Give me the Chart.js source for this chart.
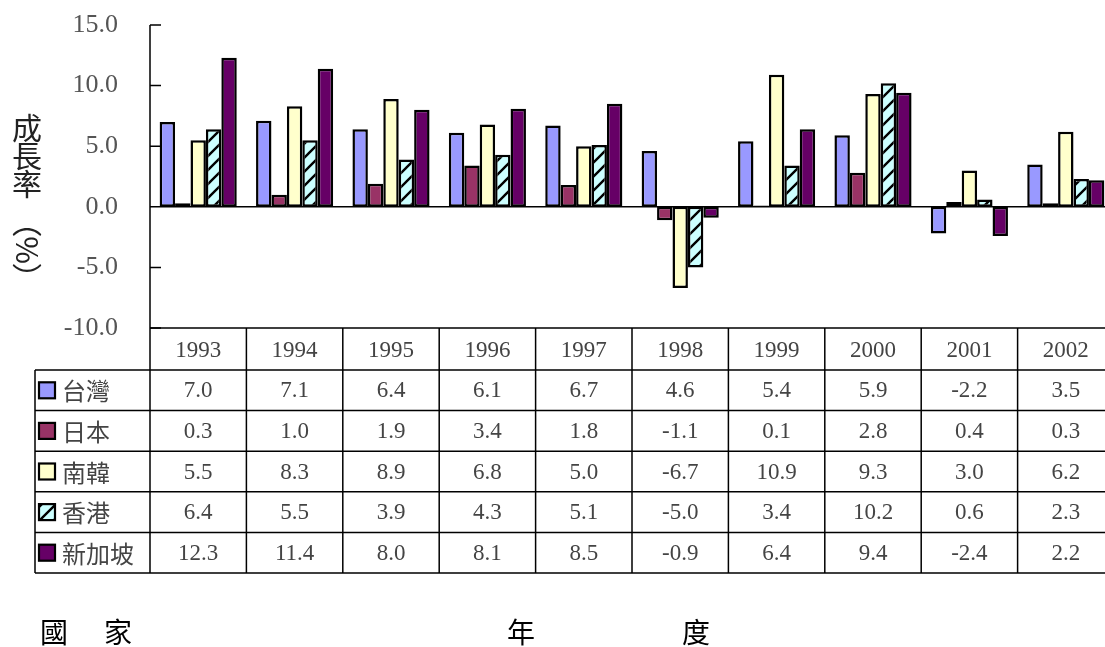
<!DOCTYPE html>
<html>
<head>
<meta charset="utf-8">
<script src="https://cdn.jsdelivr.net/npm/chart.js@4"></script>
<style>
  html, body { margin: 0; padding: 0; background: #fff; overflow: hidden; }
  canvas { display: block; }
</style>
</head>
<body>
<canvas id="growthChart" width="1120" height="647"></canvas>
<script>
// growth rate per year, one array per country
var years = ['1993', '1994', '1995', '1996', '1997', '1998', '1999', '2000', '2001', '2002'];
var countries = ['台灣', '日本', '南韓', '香港', '新加坡'];
var taiwan = [7.0, 7.1, 6.4, 6.1, 6.7, 4.6, 5.4, 5.9, -2.2, 3.5];
var japan = [0.3, 1.0, 1.9, 3.4, 1.8, -1.1, 0.1, 2.8, 0.4, 0.3];
var korea = [5.5, 8.3, 8.9, 6.8, 5.0, -6.7, 10.9, 9.3, 3.0, 6.2];
var hongKong = [6.4, 5.5, 3.9, 4.3, 5.1, -5.0, 3.4, 10.2, 0.6, 2.3];
var singapore = [12.3, 11.4, 8.0, 8.1, 8.5, -0.9, 6.4, 9.4, -2.4, 2.2];
var yMin = -10;
var yMax = 15;
var yStep = 5;

document.addEventListener("DOMContentLoaded", function(){

    var serif = '"Liberation Serif", "Times New Roman", serif';
    var cjk = '"Noto Sans CJK TC", "Noto Sans", sans-serif';

    // light cyan with black "/" stripes for Hong Kong
    function makeHatch() {
        var c = document.createElement('canvas');
        c.width = 14; c.height = 14;
        var g = c.getContext('2d');
        g.fillStyle = '#CCFFFF';
        g.fillRect(0, 0, 14, 14);
        g.strokeStyle = '#000';
        g.lineWidth = 2.4;
        g.beginPath();
        g.moveTo(-2, 16); g.lineTo(16, -2);
        g.moveTo(-9, 9); g.lineTo(9, -9);
        g.moveTo(5, 23); g.lineTo(23, 5);
        g.stroke();
        return g.createPattern(c, 'repeat');
    }

    var seriesValues = [taiwan, japan, korea, hongKong, singapore];
    var seriesFills = ['#9999FF', '#993366', '#FFFFCC', makeHatch(), '#660066'];

    var datasets = [];
    for (var i = 0; i < countries.length; i++) {
        datasets.push({
            label: countries[i],
            data: seriesValues[i],
            backgroundColor: seriesFills[i],
            borderColor: '#000',
            borderWidth: 2.5,
            borderSkipped: false,
            categoryPercentage: 0.8,
            barPercentage: 1.0
        });
    }

    // axis line, inward ticks, zero line, data table and captions
    var tablePlugin = {
        id: 'dataTable',
        afterDraw: function(chart) {
            var ctx = chart.ctx;
            var area = chart.chartArea;
            var x = chart.scales.x;
            var y = chart.scales.y;
            var colW = x.getPixelForValue(1) - x.getPixelForValue(0);
            var left = area.left;
            var right = area.right;
            var top = area.bottom;
            var headerBottom = top + 42;
            var rowH = 40.6;
            var tableLeft = 35;

            ctx.save();
            ctx.strokeStyle = '#000';
            ctx.lineWidth = 1.5;

            // y axis line and inward ticks
            ctx.beginPath();
            ctx.moveTo(left, area.top);
            ctx.lineTo(left, area.bottom);
            for (var v = yMin; v <= yMax; v += yStep) {
                var py = y.getPixelForValue(v);
                ctx.moveTo(left, py);
                ctx.lineTo(left + 11, py);
            }
            // zero line
            var zy = y.getPixelForValue(0);
            ctx.moveTo(left, zy);
            ctx.lineTo(right, zy);
            ctx.stroke();

            // table grid
            ctx.beginPath();
            ctx.moveTo(left, top); ctx.lineTo(right, top);
            for (var r = 0; r <= countries.length; r++) {
                var ly = headerBottom + r * rowH;
                ctx.moveTo(tableLeft, ly); ctx.lineTo(right, ly);
            }
            var tableBottom = headerBottom + countries.length * rowH;
            ctx.moveTo(tableLeft, headerBottom); ctx.lineTo(tableLeft, tableBottom);
            for (var c = 0; c <= years.length; c++) {
                var lx = x.getPixelForValue(c) - colW / 2;
                ctx.moveTo(lx, top); ctx.lineTo(lx, tableBottom);
            }
            ctx.stroke();

            // year header and values
            ctx.textAlign = 'center';
            ctx.textBaseline = 'middle';
            ctx.fillStyle = '#444';
            ctx.font = '23px ' + serif;
            for (var j = 0; j < years.length; j++) {
                var cx = x.getPixelForValue(j);
                ctx.fillText(years[j], cx, (top + headerBottom) / 2 + 2);
                for (var k = 0; k < countries.length; k++) {
                    ctx.fillText(seriesValues[k][j].toFixed(1), cx, headerBottom + k * rowH + rowH / 2 + 1);
                }
            }

            // legend keys and country names
            for (var k2 = 0; k2 < countries.length; k2++) {
                var ry = headerBottom + k2 * rowH + rowH / 2;
                ctx.fillStyle = seriesFills[k2];
                ctx.fillRect(39, ry - 8, 16, 16);
                ctx.lineWidth = 2.2;
                ctx.strokeRect(39, ry - 8, 16, 16);
                ctx.fillStyle = '#444';
                ctx.textAlign = 'left';
                ctx.font = '24px ' + cjk;
                ctx.fillText(countries[k2], 62, ry + 1);
            }

            // y axis title: upright characters, vertical brackets, turned %
            ctx.fillStyle = '#222';
            ctx.textAlign = 'center';
            ctx.font = '30px ' + cjk;
            var titleChars = ['成', '長', '率'];
            for (var t = 0; t < titleChars.length; t++) {
                ctx.fillText(titleChars[t], 27, 128 + t * 28);
            }
            ctx.fillText('︵', 27, 222);
            ctx.fillText('︶', 27, 278);
            ctx.save();
            ctx.translate(27, 250);
            ctx.rotate(Math.PI / 2);
            ctx.fillText('%', 0, 0);
            ctx.restore();

            // captions under the table
            ctx.fillStyle = '#000';
            ctx.font = '28px ' + cjk;
            ctx.fillText('國', 54, 632);
            ctx.fillText('家', 118, 632);
            ctx.fillText('年', 521, 632);
            ctx.fillText('度', 696, 632);

            ctx.restore();
        }
    };

    new Chart(document.getElementById('growthChart'), {
        type: 'bar',
        data: { labels: years, datasets: datasets },
        options: {
            responsive: false,
            animation: false,
            layout: { padding: { top: 25, bottom: 319, right: 6, left: 0 } },
            plugins: {
                legend: { display: false },
                tooltip: { enabled: false }
            },
            scales: {
                x: { display: false },
                y: {
                    min: yMin,
                    max: yMax,
                    afterFit: function(scale) {
                        scale.width = 150;
                        scale.paddingTop = 0;
                        scale.paddingBottom = 0;
                    },
                    border: { display: false },
                    grid: { display: false, drawTicks: false },
                    ticks: {
                        stepSize: yStep,
                        padding: 32,
                        color: '#555',
                        font: { family: serif, size: 26 },
                        callback: function(value) { return value.toFixed(1); }
                    }
                }
            }
        },
        plugins: [tablePlugin]
    });
});
</script>
</body>
</html>
